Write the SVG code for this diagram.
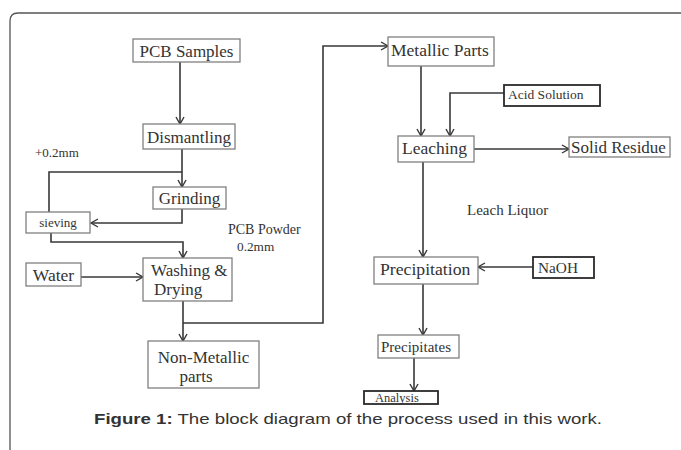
<svg xmlns="http://www.w3.org/2000/svg" width="681" height="450" viewBox="0 0 681 450">
<style>
.box{fill:#fff;stroke:#808080;stroke-width:1.3}
.dbox{fill:#fff;stroke:#2a2a2a;stroke-width:1.8}
.t{font-family:"Liberation Serif","Times New Roman",serif;fill:#333}
.c{stroke:#383838;stroke-width:1.6;fill:none}
.frame{stroke:#555;stroke-width:1.3;fill:none}
.cap{font-family:"Liberation Sans",Arial,sans-serif;fill:#333;font-size:15px}
</style>
<defs>
<marker id="arr" markerUnits="userSpaceOnUse" markerWidth="12" markerHeight="12" refX="8" refY="5" orient="auto">
<path d="M1,1 L8,5 L1,9" fill="none" stroke="#383838" stroke-width="1.4"/>
</marker>
</defs>
<rect width="681" height="450" fill="#fff"/>
<path class="frame" d="M10,450 L10,21 Q10,13 18,13 L681,13"/>

<g id="connectors">
<path class="c" d="M180,62 V124" marker-end="url(#arr)"/>
<path class="c" d="M182,149 V187" marker-end="url(#arr)"/>
<path class="c" d="M49,212 V172 H182"/>
<path class="c" d="M182,209 V223 H91" marker-end="url(#arr)"/>
<path class="c" d="M51,233 V242 H183 V258" marker-end="url(#arr)"/>
<path class="c" d="M81,277 H143" marker-end="url(#arr)"/>
<path class="c" d="M183,301 V341" marker-end="url(#arr)"/>
<path class="c" d="M183,323 H323 V46 H388" marker-end="url(#arr)"/>
<path class="c" d="M421,66 V136" marker-end="url(#arr)"/>
<path class="c" d="M504,93 H450 V136" marker-end="url(#arr)"/>
<path class="c" d="M474,149 H569" marker-end="url(#arr)"/>
<path class="c" d="M423,162 V257" marker-end="url(#arr)"/>
<path class="c" d="M533,267 H478" marker-end="url(#arr)"/>
<path class="c" d="M423,284 V335" marker-end="url(#arr)"/>
<path class="c" d="M414,358 V391" marker-end="url(#arr)"/>
</g>

<g id="pcb-samples"><rect class="box" x="133" y="39" width="107" height="23"/><text class="t" x="186.5" y="57" font-size="17" text-anchor="middle">PCB Samples</text></g>
<g id="dismantling"><rect class="box" x="143" y="124" width="92" height="25"/><text class="t" x="189" y="143" font-size="17" text-anchor="middle">Dismantling</text></g>
<g id="grinding"><rect class="box" x="153" y="187" width="73" height="22"/><text class="t" x="189.5" y="204" font-size="17" text-anchor="middle">Grinding</text></g>
<g id="sieving"><rect class="box" x="26" y="212" width="64" height="21"/><text class="t" x="58" y="227" font-size="13" text-anchor="middle">sieving</text></g>
<g id="water"><rect class="box" x="26" y="263" width="55" height="23"/><text class="t" x="53.5" y="281" font-size="17.5" text-anchor="middle">Water</text></g>
<g id="washing-drying"><rect class="box" x="143" y="258" width="89" height="43"/><text class="t" x="151" y="276" font-size="17">Washing &amp;</text><text class="t" x="154" y="295" font-size="17">Drying</text></g>
<g id="non-metallic"><rect class="box" x="148" y="341" width="111" height="47"/><text class="t" x="203.5" y="363" font-size="17" text-anchor="middle">Non-Metallic</text><text class="t" x="196" y="382" font-size="17" text-anchor="middle">parts</text></g>
<g id="metallic-parts"><rect class="box" x="388" y="37" width="106" height="29"/><text class="t" x="391" y="56" font-size="17.5">Metallic Parts</text></g>
<g id="leaching"><rect class="box" x="398" y="136" width="76" height="26"/><text class="t" x="402" y="154" font-size="17.5">Leaching</text></g>
<g id="acid-solution"><rect class="dbox" x="504" y="85" width="96" height="21"/><text class="t" x="508" y="99" font-size="13.5">Acid Solution</text></g>
<g id="solid-residue"><rect class="box" x="569" y="137" width="101" height="20"/><text class="t" x="571" y="153" font-size="17">Solid Residue</text></g>
<g id="precipitation"><rect class="box" x="374" y="257" width="104" height="27"/><text class="t" x="380" y="275" font-size="17.7">Precipitation</text></g>
<g id="naoh"><rect class="dbox" x="533" y="257" width="61" height="21"/><text class="t" x="538" y="273" font-size="15.3">NaOH</text></g>
<g id="precipitates"><rect class="box" x="378" y="335" width="81" height="23"/><text class="t" x="381" y="352" font-size="15">Precipitates</text></g>
<g id="analysis"><rect class="dbox" x="364" y="391" width="74" height="13"/><text class="t" x="375" y="402" font-size="12.5">Analysis</text></g>

<g id="labels">
<text class="t" x="35" y="157" font-size="13">+0.2mm</text>
<text class="t" x="228" y="234" font-size="14">PCB Powder</text>
<text class="t" x="237" y="251" font-size="13.3">0.2mm</text>
<text class="t" x="467" y="215" font-size="15">Leach Liquor</text>
</g>

<text class="cap" x="94" y="424" textLength="508" lengthAdjust="spacingAndGlyphs"><tspan font-weight="bold">Figure 1:</tspan> The block diagram of the process used in this work.</text>
</svg>
